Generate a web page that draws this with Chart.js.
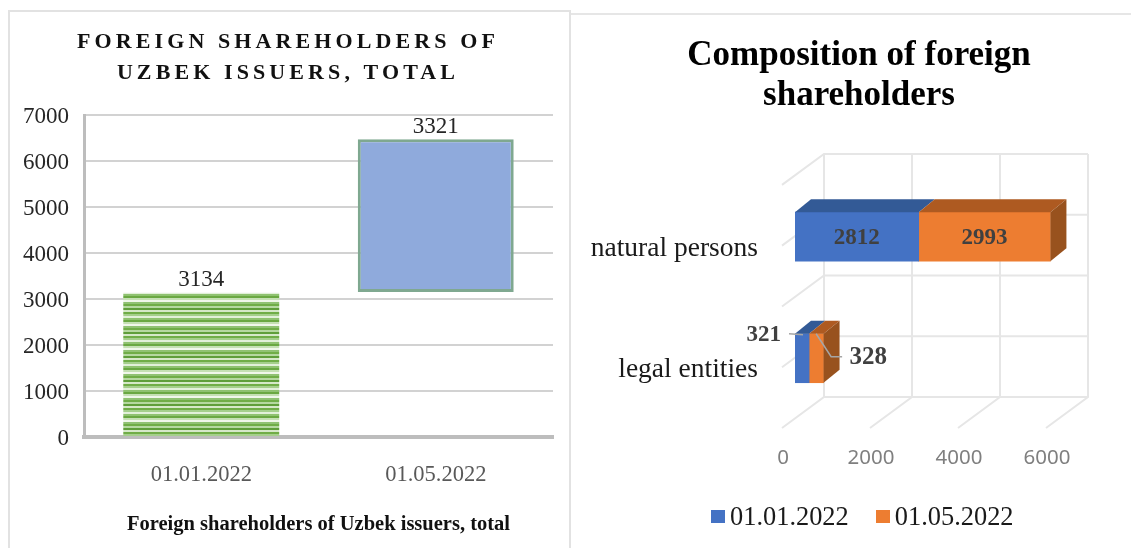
<!DOCTYPE html>
<html>
<head>
<meta charset="utf-8">
<title>Foreign shareholders of Uzbek issuers</title>
<script src="https://cdn.jsdelivr.net/npm/chart.js@4"></script>
<style>
  html, body { margin: 0; padding: 0; background: #fff; overflow: hidden; }
  body { position: relative; width: 1131px; height: 548px; }
  #left-panel {
    position: absolute; left: 8px; top: 10px; width: 563px; height: 538px;
    border: 2px solid #e2e2e2; border-bottom: none; box-sizing: border-box;
  }
  #right-line { position: absolute; left: 571px; top: 13px; width: 560px; height: 2px; background: #e6e6e6; }
  .holder { position: absolute; top: 0; height: 548px; }
  #holder-total { left: 0; width: 570px; filter: blur(0.5px); }
  #holder-comp { left: 572px; width: 559px; }
  #comp-legend {
    position: absolute; left: 711px; top: 500px; display: flex; align-items: center;
    font: 26.4px 'Liberation Serif', serif; color: #1a1a1a; line-height: 32px;
  }
  #comp-legend i { display: inline-block; width: 14px; height: 13px; margin-right: 5px; }
  #comp-legend span { display: flex; align-items: center; margin-right: 27px; }
</style>
</head>
<body>
<div id="left-panel"></div>
<div id="right-line"></div>
<div class="holder" id="holder-total"><canvas id="totalChart"></canvas></div>
<div class="holder" id="holder-comp"><canvas id="compChart"></canvas></div>
<div id="comp-legend"></div>
<script>
const serif = "'Liberation Serif', serif";

// left chart
const totalCategories = ["01.01.2022", "01.05.2022"];
const totalBase = [0, 3150];
const totalValues = [3134, 3321];
const totalTitle = ["FOREIGN SHAREHOLDERS OF", "UZBEK ISSUERS, TOTAL"];
const totalCaption = "Foreign shareholders of Uzbek issuers, total";

// right chart
const compCategories = ["natural persons", "legal entities"];
const compFirst = [2812, 321];
const compSecond = [2993, 328];
const compSeries = ["01.01.2022", "01.05.2022"];
const compColors = ["#4472c4", "#ed7d31"];
const compTitle = ["Composition of foreign", "shareholders"];

// horizontal stripes for the green gradient-hatched bar
function stripes() {
    const c = document.createElement("canvas");
    const shades = ["#70ad47", "#a5cf8c", "#e2f0d9", "#8fc270", "#6aa842", "#c5e0b4",
                    "#f0f7ea", "#90c273", "#70ad47", "#b5d8a0", "#5f9e3a", "#d5e8c8"];
    c.width = 4;
    c.height = shades.length * 2;
    const g = c.getContext("2d");
    shades.forEach((s, i) => {
        g.fillStyle = s;
        g.fillRect(0, i * 2, 4, 2);
    });
    return g.createPattern(c, "repeat");
}

const totalLabels = {
    id: "totalLabels",
    afterDatasetsDraw(chart) {
        const ctx = chart.ctx;
        ctx.save();
        ctx.font = "23px " + serif;
        ctx.fillStyle = "#262626";
        ctx.textAlign = "center";
        ctx.textBaseline = "bottom";
        chart.getDatasetMeta(0).data.forEach((bar, i) => {
            ctx.fillText(totalValues[i], bar.x, bar.y - 1);
        });
        ctx.restore();
    }
};

const spacedTitle = {
    id: "spacedTitle",
    afterDraw(chart) {
        const ctx = chart.ctx;
        ctx.save();
        ctx.font = "bold 22px " + serif;
        ctx.letterSpacing = "4.1px";
        ctx.fillStyle = "#111";
        ctx.textAlign = "center";
        ctx.textBaseline = "middle";
        totalTitle.forEach((line, i) => ctx.fillText(line, 288, 42 + i * 31));
        ctx.restore();
    }
};

new Chart(document.getElementById("totalChart"), {
    type: "bar",
    data: {
        labels: totalCategories,
        datasets: [{
            data: totalValues.map((v, i) => [totalBase[i], totalBase[i] + v]),
            backgroundColor: [stripes(), "#8faadc"],
            borderColor: ["#8cc168", "#7fa890"],
            borderWidth: [0, 3],
            borderSkipped: false,
            categoryPercentage: 1,
            barPercentage: 0.665
        }]
    },
    options: {
        responsive: true,
        maintainAspectRatio: false,
        animation: false,
        layout: { padding: { top: 115, right: 17 } },
        plugins: { legend: { display: false }, tooltip: { enabled: false } },
        scales: {
            x: {
                afterFit: s => { s.height = 111; },
                grid: { display: false },
                border: { color: "#bdbdbd", width: 4 },
                ticks: { color: "#595959", padding: 17, font: { family: serif, size: 22.5 } },
                title: {
                    display: true,
                    text: totalCaption,
                    color: "#111",
                    font: { family: serif, size: 20.5, weight: "bold" },
                    padding: { top: 12, bottom: 11 }
                }
            },
            y: {
                min: 0,
                max: 7000,
                afterFit: s => { s.width = 84; },
                grid: { color: "#d2d2d2", lineWidth: 2, drawTicks: false },
                border: { color: "#bdbdbd", width: 3 },
                ticks: {
                    stepSize: 1000,
                    labelOffset: 2,
                    color: "#262626",
                    padding: 15,
                    font: { family: serif, size: 23 },
                    callback: v => String(v)
                }
            }
        }
    },
    plugins: [totalLabels, spacedTitle]
});

// fake 3d: walls behind the bars, tops and sides after them
const wallBackX = 29, wallBackY = -22, wallFrontX = -13, wallFrontY = 9;
const depthX = 16, depthY = -13;
const topColors = ["#335a96", "#ae5a21"];
const sideColor = "#98521e";

function poly(ctx, pts, fill) {
    ctx.beginPath();
    pts.forEach((p, i) => i ? ctx.lineTo(p[0], p[1]) : ctx.moveTo(p[0], p[1]));
    ctx.closePath();
    ctx.fillStyle = fill;
    ctx.fill();
}

const walls3d = {
    id: "walls3d",
    // padding left is large to centre the title, so let the labels run past the scale box
    afterLayout(chart) {
        chart.scales.y.left = 0;
    },
    beforeDatasetsDraw(chart) {
        const { ctx, scales: { x, y } } = chart;
        const top = y.getPixelForValue(-0.5), bottom = y.getPixelForValue(1.5);
        const x0 = x.getPixelForValue(0), x1 = x.getPixelForValue(6000);
        ctx.save();
        ctx.strokeStyle = "#e6e6e6";
        ctx.lineWidth = 2;
        ctx.beginPath();
        [0, 2000, 4000, 6000].forEach(v => {
            const px = x.getPixelForValue(v);
            ctx.moveTo(px + wallBackX, top + wallBackY);
            ctx.lineTo(px + wallBackX, bottom + wallBackY);
            ctx.lineTo(px + wallFrontX, bottom + wallFrontY);
        });
        [-0.5, 0, 0.5, 1, 1.5].forEach(v => {
            const py = y.getPixelForValue(v);
            ctx.moveTo(x0 + wallFrontX, py + wallFrontY);
            ctx.lineTo(x0 + wallBackX, py + wallBackY);
            ctx.lineTo(x1 + wallBackX, py + wallBackY);
        });
        ctx.stroke();
        ctx.restore();
    },
    afterDatasetsDraw(chart) {
        const ctx = chart.ctx;
        [0, 1].forEach(d => {
            chart.getDatasetMeta(d).data.forEach(bar => {
                const t = bar.y - bar.height / 2, b = bar.y + bar.height / 2;
                poly(ctx, [[bar.base, t], [bar.base + depthX, t + depthY], [bar.x + depthX, t + depthY], [bar.x, t]], topColors[d]);
                if (d === 1) {
                    poly(ctx, [[bar.x, t], [bar.x + depthX, t + depthY], [bar.x + depthX, b + depthY], [bar.x, b]], sideColor);
                }
            });
        });
    }
};

const compLabels = {
    id: "compLabels",
    afterDatasetsDraw(chart) {
        const ctx = chart.ctx;
        const a = chart.getDatasetMeta(0).data, c = chart.getDatasetMeta(1).data;
        ctx.save();
        ctx.font = "bold 23px " + serif;
        ctx.fillStyle = "#404040";
        ctx.textBaseline = "middle";
        ctx.textAlign = "center";
        ctx.fillText(compFirst[0], (a[0].base + a[0].x) / 2, a[0].y + 1);
        ctx.fillText(compSecond[0], (c[0].base + c[0].x) / 2, c[0].y + 1);

        // the small bars use leader lines
        const topY = a[1].y - a[1].height / 2;
        ctx.strokeStyle = "#a6a6a6";
        ctx.lineWidth = 1.5;
        ctx.beginPath();
        ctx.moveTo(a[1].base - 6, topY);
        ctx.lineTo(a[1].base + 8, topY + 1);
        ctx.moveTo(c[1].base + 7, topY);
        ctx.lineTo(c[1].base + 22, topY + 23);
        ctx.lineTo(c[1].base + 33, topY + 23);
        ctx.stroke();
        ctx.textAlign = "right";
        ctx.fillText(compFirst[1], a[1].base - 14, topY + 1);
        ctx.textAlign = "left";
        ctx.font = "bold 25px " + serif;
        ctx.fillText(compSecond[1], c[1].x + 26, topY + 24);
        ctx.restore();
    }
};

new Chart(document.getElementById("compChart"), {
    type: "bar",
    data: {
        labels: compCategories,
        datasets: [
            { label: compSeries[0], data: compFirst, backgroundColor: compColors[0], barThickness: 49 },
            { label: compSeries[1], data: compSecond, backgroundColor: compColors[1], barThickness: 49 }
        ]
    },
    options: {
        indexAxis: "y",
        responsive: true,
        maintainAspectRatio: false,
        animation: false,
        layout: { padding: { left: 87, right: 72, bottom: 52, top: 35 } },
        plugins: {
            title: {
                display: true,
                text: compTitle,
                color: "#000",
                font: { family: serif, size: 35, weight: "bold", lineHeight: 1.17 },
                padding: { top: 0, bottom: 59 }
            },
            legend: { display: false },
            tooltip: { enabled: false }
        },
        scales: {
            x: {
                stacked: true,
                min: 0,
                max: 6000,
                afterFit: s => { s.height = 77; },
                grid: { display: false },
                border: { display: false },
                ticks: {
                    stepSize: 2000,
                    labelOffset: -12,
                    maxRotation: 0,
                    color: "#7f7f7f",
                    padding: 19,
                    font: { family: "'Noto Sans', sans-serif", size: 20.5 },
                    callback: v => String(v)
                }
            },
            y: {
                stacked: true,
                afterFit: s => { s.width = 136; },
                grid: { display: false, drawTicks: false },
                border: { display: false },
                ticks: { labelOffset: 12, color: "#1a1a1a", padding: 37, font: { family: serif, size: 27.5 } }
            }
        }
    },
    plugins: [walls3d, compLabels]
});

// legend as html so the swatch sits close to its text
const legendBox = document.getElementById("comp-legend");
compSeries.forEach((name, i) => {
    const item = document.createElement("span");
    const swatch = document.createElement("i");
    swatch.style.background = compColors[i];
    item.appendChild(swatch);
    item.appendChild(document.createTextNode(name));
    legendBox.appendChild(item);
});
</script>
</body>
</html>
